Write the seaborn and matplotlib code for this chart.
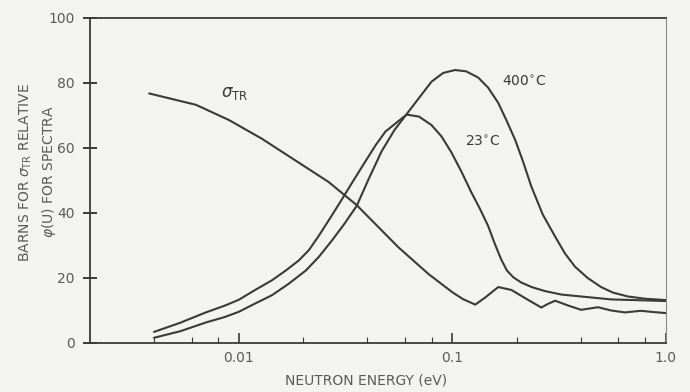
import numpy as np
import pandas as pd
import matplotlib
matplotlib.use('Agg')
import matplotlib.pyplot as plt
from matplotlib.ticker import FixedLocator, NullFormatter
import seaborn as sns

# transport cross section (barns)
sigma_e = [0.0038, 0.0063, 0.009, 0.0128, 0.0185, 0.0263, 0.0356, 0.0559, 0.0773, 0.1,
           0.112, 0.128, 0.1426, 0.164, 0.189, 0.223, 0.261, 0.28, 0.303, 0.349, 0.401,
           0.481, 0.553, 0.643, 0.764, 0.88, 1.0]
sigma_v = [76.7, 73.2, 68.5, 62.8, 56.0, 49.5, 42.4, 29.4, 21.2, 15.6,
           13.5, 11.8, 14.0, 17.2, 16.3, 13.5, 10.9, 12.0, 13.0, 11.5, 10.2,
           11.0, 10.0, 9.4, 9.9, 9.5, 9.2]

# spectrum at 23 C
cold_e = [0.004, 0.0053, 0.007, 0.0086, 0.01, 0.0117, 0.0143, 0.0166, 0.0191, 0.0213,
          0.0237, 0.0264, 0.0293, 0.0337, 0.0392, 0.0437, 0.0486, 0.061, 0.0697, 0.0798,
          0.0889, 0.0989, 0.110, 0.1227, 0.134, 0.147, 0.158, 0.169, 0.18, 0.193, 0.21,
          0.235, 0.27, 0.323, 0.553, 1.0]
cold_v = [3.4, 6.2, 9.4, 11.5, 13.3, 16.0, 19.3, 22.3, 25.4, 28.6,
          33.0, 37.8, 42.5, 49.0, 55.9, 60.8, 65.0, 70.2, 69.6, 67.0,
          63.5, 58.6, 52.8, 46.3, 41.5, 36.0, 30.5, 25.8, 22.3, 20.2, 18.6,
          17.2, 16.0, 14.9, 13.4, 12.9]

# spectrum at 400 C
hot_e = [0.004, 0.0053, 0.007, 0.0086, 0.01, 0.0118, 0.0143, 0.0171, 0.0206, 0.0237,
         0.0272, 0.0311, 0.0356, 0.0406, 0.0466, 0.0536, 0.0623, 0.0798, 0.0905, 0.103,
         0.116, 0.132, 0.147, 0.164, 0.179, 0.197, 0.215, 0.234, 0.265, 0.303, 0.337,
         0.376, 0.43, 0.497, 0.565, 0.664, 0.8, 1.0]
hot_v = [1.6, 3.6, 6.3, 8.0, 9.6, 12.0, 14.7, 18.2, 22.3, 26.5,
         31.4, 36.5, 42.1, 50.5, 58.9, 65.5, 71.1, 80.3, 83.0, 83.9,
         83.5, 81.6, 78.5, 73.8, 68.5, 62.4, 55.5, 48.2, 39.5, 32.7, 27.5,
         23.4, 20.0, 17.2, 15.5, 14.3, 13.6, 13.2]

x_ticks = [0.01, 0.1, 1.0]
x_tick_labels = ['0.01', '0.1', '1.0']
y_ticks = [0, 20, 40, 60, 80, 100]

sns.set_style('white')
plt.rcParams['font.family'] = ['DejaVu Sans']
plt.rcParams['xtick.bottom'] = True
plt.rcParams['ytick.left'] = True

bg = '#f3f3f1'
ink = '#3a3a3a'
txt = '#5a5a5a'

fig = plt.figure(figsize=(6.9, 3.92), dpi=100, facecolor=bg)
ax = fig.add_axes([0.130, 0.125, 0.835, 0.83])
ax.set_facecolor(bg)

sns.lineplot(x=sigma_e, y=sigma_v, ax=ax, color=ink, linewidth=1.5, sort=False)
sns.lineplot(x=cold_e, y=cold_v, ax=ax, color=ink, linewidth=1.5, sort=False)
sns.lineplot(x=hot_e, y=hot_v, ax=ax, color=ink, linewidth=1.5, sort=False)

ax.set_xscale('log')
ax.set_xlim(0.002, 1.0)
ax.set_ylim(0, 100)

ax.xaxis.set_major_locator(FixedLocator(x_ticks))
ax.set_xticklabels(x_tick_labels)
minor = [m * d for d in [0.001, 0.01, 0.1] for m in [2, 4, 6, 8]]
ax.xaxis.set_minor_locator(FixedLocator([v for v in minor if 0.002 < v < 1.0]))
ax.xaxis.set_minor_formatter(NullFormatter())
ax.set_yticks(y_ticks)

ax.tick_params(axis='x', which='major', direction='in', length=7, width=1.2,
               color=ink, labelcolor=txt, labelsize=10, pad=6, bottom=True)
ax.tick_params(axis='y', which='major', direction='inout', length=10, width=1.4,
               color=ink, labelcolor=txt, labelsize=10, pad=6, left=True)
ax.tick_params(axis='x', which='minor', direction='in', length=4, width=0.8,
               color=ink, bottom=True)

for side in ['left', 'bottom', 'top']:
    ax.spines[side].set_color(ink)
    ax.spines[side].set_linewidth(1.3)
ax.spines['right'].set_color('#8a8a8a')
ax.spines['right'].set_linewidth(0.8)

ax.set_xlabel('NEUTRON ENERGY (eV)', color=txt, fontsize=10, labelpad=6, x=0.48)
ax.set_ylabel('BARNS FOR $\\sigma_{\\mathrm{TR}}$ RELATIVE\n$\\varphi$(U) FOR SPECTRA',
              color=txt, fontsize=10, linespacing=1.5)
ax.yaxis.set_label_coords(-0.055, 0.525)

ax.text(0.0082, 75.5, '$\\sigma_{\\mathrm{TR}}$', color=ink, fontsize=12)
ax.text(0.17, 79, '400$^{\\circ}$C', color=ink, fontsize=10)
ax.text(0.115, 60.5, '23$^{\\circ}$C', color=ink, fontsize=10)

fig.savefig('out.png', dpi=100, facecolor=bg)
